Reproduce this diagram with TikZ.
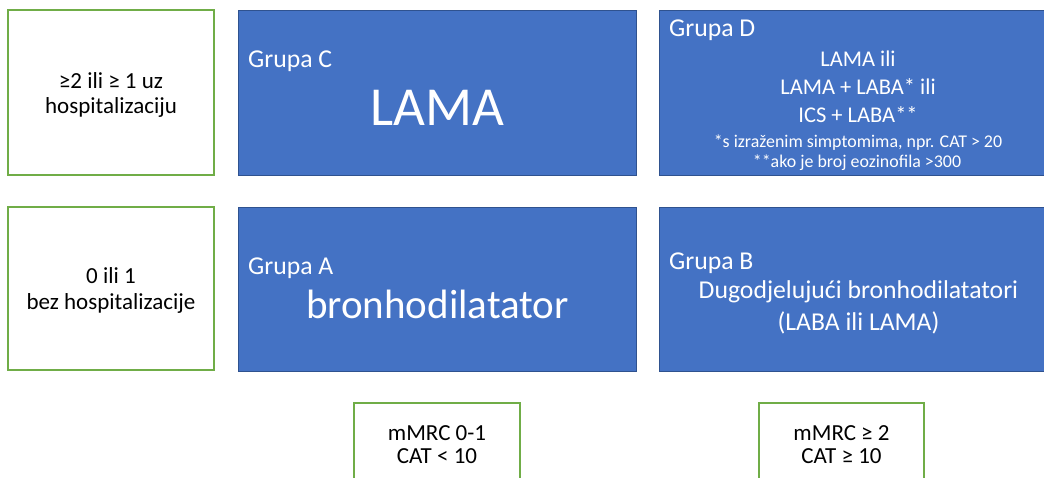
\documentclass[tikz,border=0pt]{standalone}
\usepackage{fontspec}
\setmainfont{Carlito}
\definecolor{offblue}{HTML}{4472C4}
\definecolor{offblueline}{HTML}{2F528F}
\definecolor{offgreen}{HTML}{70AD47}
\tikzset{
  bluebox/.style={draw=offblueline, fill=offblue, line width=1pt},
  greenbox/.style={draw=offgreen, fill=white, line width=1.5pt},
  wtxt/.style={text=white, inner sep=0pt, anchor=base},
  ktxt/.style={text=black, inner sep=0pt, anchor=base},
  grp/.style={text=white, inner sep=0pt, anchor=base west, font=\fontsize{25.7}{30}\selectfont},
  fs23/.style={font=\fontsize{23}{28}\selectfont},
  fs22/.style={font=\fontsize{22.5}{27}\selectfont},
  fs18/.style={font=\fontsize{17.9}{21}\selectfont},
  fsB/.style={font=\fontsize{25.7}{30}\selectfont},
}
\begin{document}
\begin{tikzpicture}[x=1pt,y=-1pt]
\useasboundingbox (0,0) rectangle (1044,477);
\clip (0,0) rectangle (1044,477);
% left boxes
\draw[greenbox] (8,10) rectangle (214,175);
\draw[greenbox] (8,207) rectangle (214,370);
% blue boxes
\draw[bluebox] (238,10) rectangle (636,175);
\draw[bluebox] (659,10) rectangle (1057,175);
\draw[bluebox] (238,207) rectangle (636,371);
\draw[bluebox] (659,207) rectangle (1057,371);
% bottom boxes
\draw[greenbox] (354,403) rectangle (520,490);
\draw[greenbox] (759,403) rectangle (924,490);

% left texts
\node[ktxt,fs23] (l1a) at (111,88) {≥2 ili ≥ 1 uz};
\node[ktxt,fs23] (l1b) at (111,113) {hospitalizaciju};
\node[ktxt,fs23] (l2a) at (111,283) {0 ili 1};
\node[ktxt,fs23] (l2b) at (111,309) {bez hospitalizacije};

% Group C
\node[grp] (gc) at (248,67) {Grupa C};
\node[wtxt,font=\fontsize{55}{60}\selectfont] (cl) at (437.5,125) {LAMA};

% Group D
\node[grp] (gd) at (669,36) {Grupa D};
\node[wtxt,fs22] (d1) at (858,66) {LAMA ili};
\node[wtxt,fs22] (d2) at (858,94) {LAMA + LABA* ili};
\node[wtxt,fs22] (d3) at (858,122) {ICS + LABA**};
\node[wtxt,fs18] (d4) at (858,147) {*s izraženim simptomima, npr. CAT > 20};
\node[wtxt,fs18] (d5) at (857,167) {**ako je broj eozinofila >300};

% Group A
\node[grp] (ga) at (248,274) {Grupa A};
\node[wtxt,font=\fontsize{41}{46}\selectfont] (al) at (437.5,318) {bronhodilatator};

% Group B
\node[grp] (gb) at (669,269) {Grupa B};
\node[wtxt,fsB] (b1) at (858.5,298) {Dugodjelujući bronhodilatatori};
\node[wtxt,fsB] (b2) at (858.5,330) {(LABA ili LAMA)};

% bottom texts
\node[ktxt,fs23] (m1a) at (437,440) {mMRC 0-1};
\node[ktxt,fs23] (m1b) at (437,463) {CAT < 10};
\node[ktxt,fs23] (m2a) at (841.5,440) {mMRC ≥ 2};
\node[ktxt,fs23] (m2b) at (841.5,463) {CAT ≥ 10};
\end{tikzpicture}
\end{document}
